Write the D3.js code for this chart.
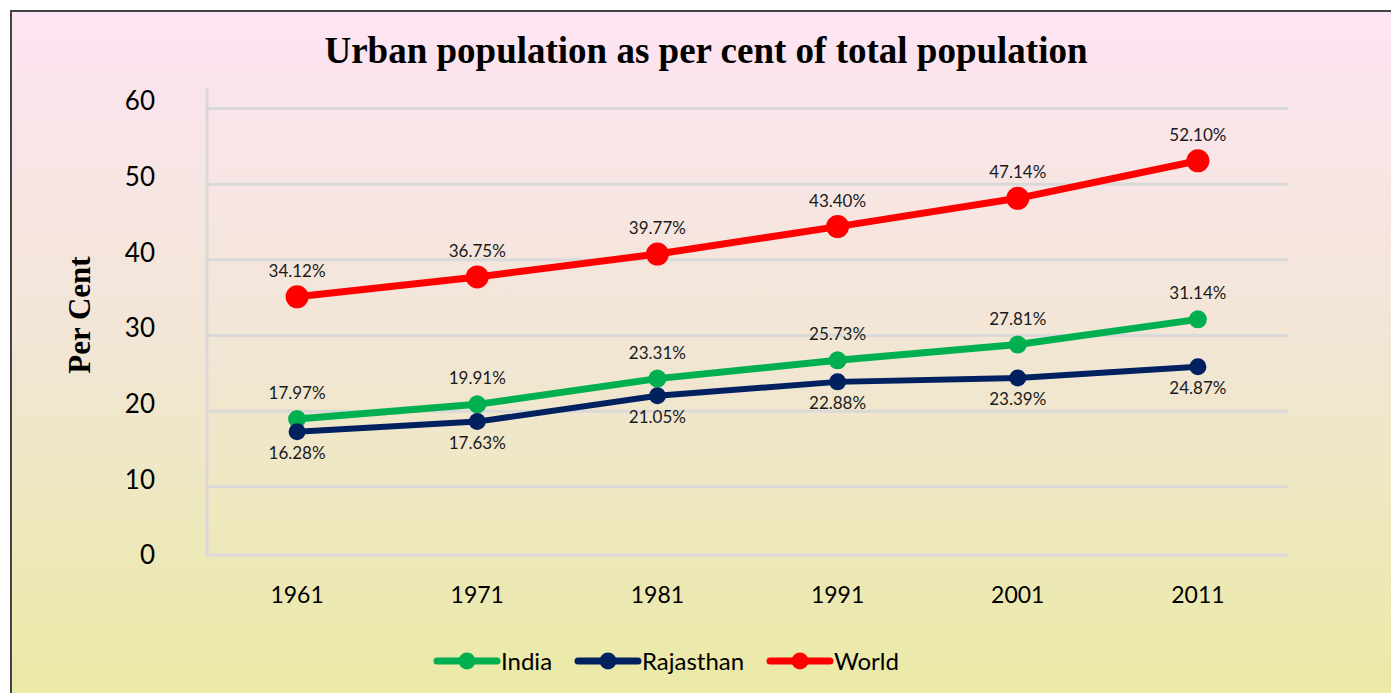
<!DOCTYPE html>
<html lang="en">
<head>
<meta charset="UTF-8">
<title>Urban population as per cent of total population</title>
<style>
  body { margin: 0; background: #fff; }
  svg { display: block; }
  .tick-label { font-family: Lato, "Open Sans", sans-serif; fill: #000; }
  .data-label { font-family: Lato, "Open Sans", sans-serif; font-size: 17px; fill: #1a1a1a; }
</style>
</head>
<body>
<div id="chart"></div>
<script src="https://d3js.org/d3.v7.min.js"></script>
<script>
// chart data
const years = ["1961", "1971", "1981", "1991", "2001", "2011"];
const india = [17.97, 19.91, 23.31, 25.73, 27.81, 31.14];
const rajasthan = [16.28, 17.63, 21.05, 22.88, 23.39, 24.87];
const world = [34.12, 36.75, 39.77, 43.40, 47.14, 52.10];
const yTicks = [0, 10, 20, 30, 40, 50, 60];

const series = [
  { name: "India", values: india, color: "#00b050", width: 7, r: 9, labelPos: "above" },
  { name: "Rajasthan", values: rajasthan, color: "#002060", width: 6, r: 8.5, labelPos: "below" },
  { name: "World", values: world, color: "#ff0000", width: 7, r: 11.5, labelPos: "above" }
];

const W = 1391, H = 693;
const svg = d3.select("#chart").append("svg").attr("width", W).attr("height", H);

// background gradient
const grad = svg.append("defs").append("linearGradient")
  .attr("id", "bg").attr("x1", 0).attr("y1", 0).attr("x2", 0).attr("y2", 1);
grad.append("stop").attr("offset", "0%").attr("stop-color", "#fde4f3");
grad.append("stop").attr("offset", "50%").attr("stop-color", "#f1e6d3");
grad.append("stop").attr("offset", "100%").attr("stop-color", "#eaeaa3");

svg.append("rect")
  .attr("x", 11).attr("y", 11).attr("width", W + 10).attr("height", H + 10)
  .attr("fill", "url(#bg)").attr("stroke", "#444").attr("stroke-width", 2);

// scales
const x = d3.scaleBand().domain(years).range([207, 1288]);
const y = d3.scaleLinear().domain([0, 60]).range([555, 101]);
const cx = d => x(d) + x.bandwidth() / 2;

// gridlines (drawn slightly below their value as in the original)
svg.append("g").selectAll("line")
  .data(yTicks.filter(t => t > 0))
  .join("line")
  .attr("x1", 207).attr("x2", 1288)
  .attr("y1", d => y(d) + 7.5).attr("y2", d => y(d) + 7.5)
  .attr("stroke", "#d9d9d9").attr("stroke-width", 3);

// axis lines
svg.append("line").attr("x1", 207).attr("x2", 207).attr("y1", 88).attr("y2", 556)
  .attr("stroke", "#d9d9d9").attr("stroke-width", 3);
svg.append("line").attr("x1", 205).attr("x2", 1288).attr("y1", y(0)).attr("y2", y(0))
  .attr("stroke", "#d9d9d9").attr("stroke-width", 3);

// y tick labels
svg.append("g").selectAll("text")
  .data(yTicks)
  .join("text")
  .attr("class", "tick-label")
  .attr("x", 155).attr("y", d => y(d))
  .attr("dy", "0.36em")
  .attr("text-anchor", "end")
  .attr("font-size", 26)
  .text(d => d);

// x tick labels
svg.append("g").selectAll("text")
  .data(years)
  .join("text")
  .attr("class", "tick-label")
  .attr("x", d => cx(d)).attr("y", 603)
  .attr("text-anchor", "middle")
  .attr("font-size", 23)
  .text(d => d);

// title
svg.append("text")
  .attr("x", 706).attr("y", 63)
  .attr("text-anchor", "middle")
  .attr("font-family", "'Liberation Serif', 'Times New Roman', serif")
  .attr("font-weight", "bold").attr("font-size", 37)
  .text("Urban population as per cent of total population");

// y axis title
svg.append("text")
  .attr("transform", "translate(90,315) rotate(-90)")
  .attr("text-anchor", "middle")
  .attr("font-family", "'Liberation Serif', 'Times New Roman', serif")
  .attr("font-weight", "bold").attr("font-size", 31)
  .text("Per Cent");

// lines, markers, labels
const line = d3.line().x((d, i) => cx(years[i])).y(d => y(d));

series.forEach(s => {
  const g = svg.append("g");
  g.append("path")
    .datum(s.values)
    .attr("d", line)
    .attr("fill", "none")
    .attr("stroke", s.color)
    .attr("stroke-width", s.width)
    .attr("stroke-linejoin", "round");
  g.selectAll("circle")
    .data(s.values)
    .join("circle")
    .attr("cx", (d, i) => cx(years[i]))
    .attr("cy", d => y(d))
    .attr("r", s.r)
    .attr("fill", s.color);
  g.selectAll("text")
    .data(s.values)
    .join("text")
    .attr("class", "data-label")
    .attr("x", (d, i) => cx(years[i]))
    .attr("y", d => s.labelPos === "above" ? y(d) - 20 : y(d) + 27)
    .attr("text-anchor", "middle")
    .text(d => d.toFixed(2) + "%");
});

// legend
const legendItems = [
  { s: series[0], x: 437 },
  { s: series[1], x: 578 },
  { s: series[2], x: 770 }
];
const lg = svg.append("g");
legendItems.forEach(it => {
  lg.append("line")
    .attr("x1", it.x).attr("x2", it.x + 60)
    .attr("y1", 661).attr("y2", 661)
    .attr("stroke", it.s.color).attr("stroke-width", 7).attr("stroke-linecap", "round");
  lg.append("circle")
    .attr("cx", it.x + 30).attr("cy", 661).attr("r", 8.5)
    .attr("fill", it.s.color);
  lg.append("text")
    .attr("class", "tick-label")
    .attr("x", it.x + 64).attr("y", 661)
    .attr("dy", "0.36em")
    .attr("font-size", 24)
    .text(it.s.name);
});
</script>
</body>
</html>
